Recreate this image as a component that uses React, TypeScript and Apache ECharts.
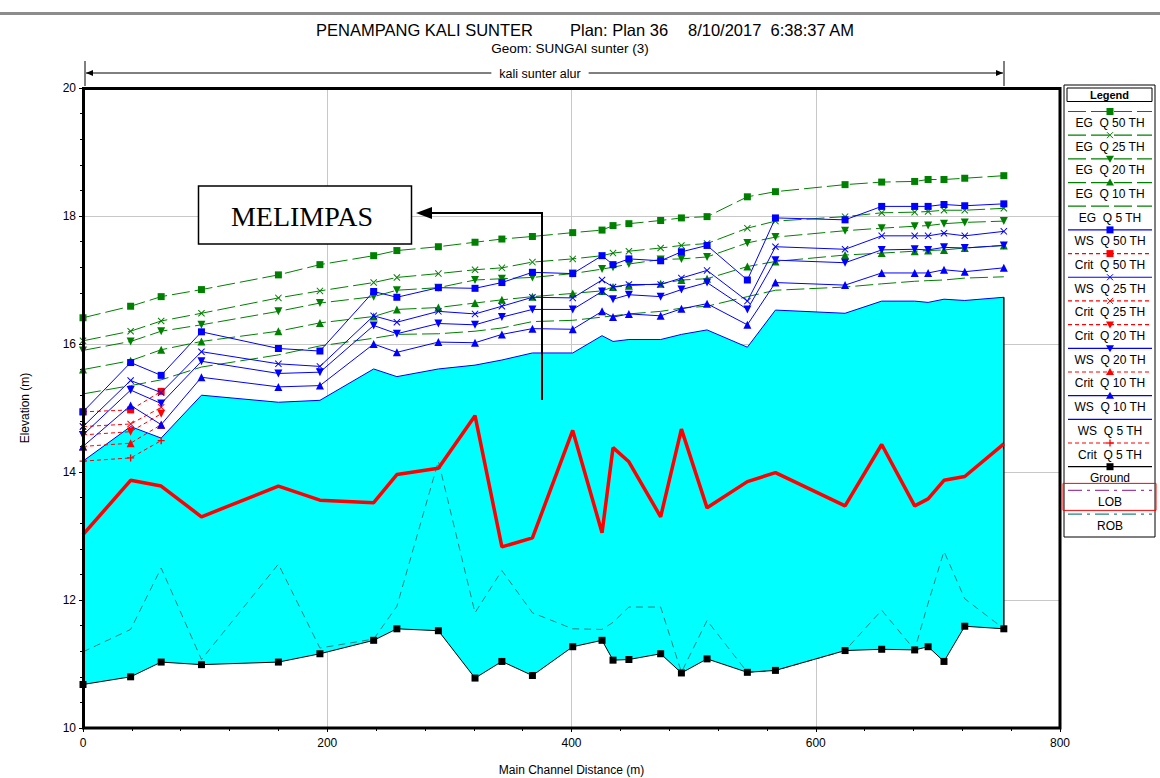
import React, { useEffect, useRef } from 'react';
import * as echarts from 'echarts';

// ---------------- data ----------------
const stations = [0, 39, 64, 97, 160, 194, 238, 257, 291, 321, 343, 368, 401, 425, 434, 447, 473, 490, 511, 544, 567, 624, 654, 681, 692, 705, 722, 754];

const ground = [10.68, 10.80, 11.03, 10.99, 11.03, 11.16, 11.37, 11.55, 11.52, 10.78, 11.04, 10.82, 11.27, 11.37, 11.06, 11.07, 11.16, 10.86, 11.08, 10.87, 10.90, 11.21, 11.23, 11.22, 11.27, 11.04, 11.59, 11.55];
const rob = [11.19, 11.54, 12.50, 11.07, 12.56, 11.25, 11.39, 11.90, 14.17, 11.80, 12.46, 11.80, 11.55, 11.54, 11.65, 11.89, 11.89, 10.87, 11.68, 10.87, 10.90, 11.21, 11.84, 11.22, 11.95, 12.76, 12.02, 11.55];

const wsQ5 = [14.17, 14.71, 14.53, 15.20, 15.09, 15.12, 15.61, 15.49, 15.61, 15.67, 15.75, 15.86, 15.86, 16.13, 16.04, 16.07, 16.07, 16.15, 16.22, 15.95, 16.53, 16.48, 16.67, 16.67, 16.65, 16.70, 16.68, 16.73];
const wsQ10 = [14.40, 15.04, 14.74, 15.48, 15.33, 15.35, 16.00, 15.87, 16.03, 16.02, 16.15, 16.24, 16.23, 16.51, 16.42, 16.47, 16.44, 16.55, 16.63, 16.30, 16.96, 16.92, 17.11, 17.11, 17.11, 17.16, 17.13, 17.19];
const wsQ20 = [14.58, 15.28, 15.07, 15.73, 15.54, 15.56, 16.29, 16.16, 16.32, 16.30, 16.42, 16.54, 16.54, 16.82, 16.70, 16.77, 16.74, 16.85, 16.96, 16.54, 17.31, 17.27, 17.47, 17.48, 17.47, 17.51, 17.50, 17.54];
const wsQ25 = [14.71, 15.43, 15.24, 15.88, 15.69, 15.65, 16.44, 16.34, 16.51, 16.47, 16.59, 16.73, 16.72, 17.00, 16.89, 16.93, 16.93, 17.03, 17.15, 16.67, 17.52, 17.48, 17.69, 17.69, 17.69, 17.73, 17.69, 17.76];
const wsQ50 = [14.94, 15.71, 15.51, 16.19, 15.93, 15.89, 16.82, 16.73, 16.88, 16.87, 16.96, 17.12, 17.10, 17.38, 17.24, 17.33, 17.30, 17.44, 17.54, 17.00, 17.97, 17.94, 18.15, 18.15, 18.15, 18.18, 18.16, 18.19];

const egQ50 = [16.41, 16.59, 16.74, 16.85, 17.08, 17.24, 17.38, 17.46, 17.52, 17.59, 17.64, 17.68, 17.74, 17.78, 17.85, 17.88, 17.93, 17.97, 17.99, 18.30, 18.38, 18.49, 18.53, 18.54, 18.57, 18.57, 18.59, 18.63];
const egQ25 = [16.05, 16.20, 16.36, 16.48, 16.72, 16.83, 16.96, 17.04, 17.10, 17.16, 17.19, 17.28, 17.33, 17.38, 17.42, 17.45, 17.50, 17.54, 17.57, 17.81, 17.92, 17.99, 18.05, 18.06, 18.07, 18.09, 18.09, 18.12];
const egQ20 = [15.90, 16.04, 16.20, 16.30, 16.51, 16.64, 16.74, 16.84, 16.88, 17.00, 17.02, 17.04, 17.10, 17.17, 17.20, 17.25, 17.32, 17.33, 17.36, 17.58, 17.67, 17.77, 17.81, 17.84, 17.85, 17.88, 17.90, 17.92];
const egQ10 = [15.60, 15.74, 15.91, 16.04, 16.20, 16.33, 16.43, 16.54, 16.57, 16.64, 16.69, 16.74, 16.79, 16.83, 16.89, 16.91, 16.94, 17.00, 17.02, 17.21, 17.29, 17.39, 17.42, 17.45, 17.46, 17.47, 17.50, 17.54];
const egQ5 = [15.22, 15.35, 15.44, 15.64, 15.83, 15.97, 16.09, 16.15, 16.16, 16.20, 16.25, 16.35, 16.37, 16.42, 16.44, 16.47, 16.51, 16.56, 16.59, 16.74, 16.84, 16.89, 16.94, 16.98, 16.99, 17.00, 17.03, 17.05];

// critical depth only computed at the first three stations
const critQ50 = [14.94, 14.97, 15.26];
const critQ25 = [14.71, 14.75, 15.01];
const critQ20 = [14.58, 14.63, 14.91];
const critQ10 = [14.40, 14.45, 14.74];
const critQ5 = [14.17, 14.22, 14.49];

// hand-drawn red line (annotation)
const redLine = [13.02, 13.87, 13.78, 13.30, 13.78, 13.56, 13.52, 13.96, 14.06, 14.88, 12.83, 12.97, 14.65, 13.05, 14.38, 14.16, 13.30, 14.67, 13.44, 13.85, 13.99, 13.47, 14.43, 13.47, 13.58, 13.87, 13.93, 14.44];

const legendNames = ['EG  Q 50 TH', 'EG  Q 25 TH', 'EG  Q 20 TH', 'EG  Q 10 TH', 'EG  Q 5 TH', 'WS  Q 50 TH', 'Crit  Q 50 TH', 'WS  Q 25 TH', 'Crit  Q 25 TH', 'Crit  Q 20 TH', 'WS  Q 20 TH', 'Crit  Q 10 TH', 'WS  Q 10 TH', 'WS  Q 5 TH', 'Crit  Q 5 TH', 'Ground', 'LOB', 'ROB'];

const titleMain = 'PENAMPANG KALI SUNTER';
const titlePlan = 'Plan: Plan 36';
const titleDate = '8/10/2017  6:38:37 AM';
const subTitle = 'Geom: SUNGAI sunter (3)';
const reachName = 'kali sunter alur';
const noteText = 'MELIMPAS';

// ---------------- styles ----------------
const GREEN = '#008000';
const BLUE = '#0000ff';
const RED = '#ff0000';
const BLACK = '#000000';
const PURPLE = '#a040a0';
const TEAL = '#2a8080';
const FONT = '"Liberation Sans", Arial, sans-serif';

const SYM: Record<string, string> = {
  square: 'rect',
  up: 'triangle',
  down: 'triangle',
  x: 'path://M0,1L1,0L5,4L9,0L10,1L6,5L10,9L9,10L5,6L1,10L0,9L4,5Z',
  plus: 'path://M4,0H6V4H10V6H6V10H4V6H0V4H4Z',
};

const EG_DASH = [18, 5];
const CRIT_DASH = [4, 3];

type Sty = { color: string; dash: number[] | null; sym: string | null };
const legendStyles: Sty[] = [
  { color: GREEN, dash: EG_DASH, sym: 'square' },
  { color: GREEN, dash: EG_DASH, sym: 'x' },
  { color: GREEN, dash: EG_DASH, sym: 'down' },
  { color: GREEN, dash: EG_DASH, sym: 'up' },
  { color: GREEN, dash: EG_DASH, sym: null },
  { color: BLUE, dash: null, sym: 'square' },
  { color: RED, dash: CRIT_DASH, sym: 'square' },
  { color: BLUE, dash: null, sym: 'x' },
  { color: RED, dash: CRIT_DASH, sym: 'x' },
  { color: RED, dash: CRIT_DASH, sym: 'down' },
  { color: BLUE, dash: null, sym: 'down' },
  { color: RED, dash: CRIT_DASH, sym: 'up' },
  { color: BLUE, dash: null, sym: 'up' },
  { color: BLUE, dash: null, sym: null },
  { color: RED, dash: CRIT_DASH, sym: 'plus' },
  { color: BLACK, dash: null, sym: 'square' },
  { color: PURPLE, dash: [14, 5, 3, 5], sym: null },
  { color: TEAL, dash: [14, 5, 3, 5], sym: null },
];

function lineSeries(name: string, xs: number[], ys: number[], color: string, dash: number[] | null, sym: string | null, width = 1, z = 3) {
  return {
    type: 'line',
    name,
    data: xs.map((x, i) => [x, ys[i]]),
    lineStyle: { color, width, type: dash ? dash : 'solid' },
    itemStyle: { color, borderWidth: 0 },
    symbol: sym ? SYM[sym] : 'none',
    symbolSize: sym === 'up' || sym === 'down' ? 8 : 7,
    symbolRotate: sym === 'down' ? 180 : 0,
    showSymbol: !!sym,
    showAllSymbol: true,
    silent: true,
    z,
  };
}

function legendGraphics() {
  const els: any[] = [];
  const bx = 1064, by = 85, bw = 91, bh = 452;
  els.push({ type: 'rect', shape: { x: bx, y: by, width: bw, height: bh }, style: { fill: '#fff', stroke: '#000', lineWidth: 1 }, z: 50 });
  els.push({ type: 'rect', shape: { x: 1067, y: 88, width: 85, height: 13.5 }, style: { fill: '#fff', stroke: '#000', lineWidth: 1 }, z: 51 });
  els.push({ type: 'text', x: 1109.5, y: 94.5, style: { text: 'Legend', font: `bold 11px ${FONT}`, fill: '#000', align: 'center', verticalAlign: 'middle' }, z: 52 });
  legendNames.forEach((name, i) => {
    const s = legendStyles[i];
    const ly = 111.5 + i * 23.68;
    const cx = 1110;
    if (name === 'LOB') {
      els.push({ type: 'rect', shape: { x: 1063, y: ly - 7, width: 93, height: 27 }, style: { fill: 'none', stroke: RED, lineWidth: 1 }, z: 53 });
    }
    els.push({ type: 'line', shape: { x1: 1068, y1: ly, x2: 1152, y2: ly }, style: { stroke: s.color, lineWidth: 1.2, lineDash: s.dash || null }, z: 52 });
    if (s.sym === 'square') {
      els.push({ type: 'rect', shape: { x: cx - 3.5, y: ly - 3.5, width: 7, height: 7 }, style: { fill: s.color }, z: 53 });
    } else if (s.sym === 'up') {
      els.push({ type: 'polygon', shape: { points: [[cx, ly - 4], [cx - 4, ly + 3], [cx + 4, ly + 3]] }, style: { fill: s.color }, z: 53 });
    } else if (s.sym === 'down') {
      els.push({ type: 'polygon', shape: { points: [[cx, ly + 4], [cx - 4, ly - 3], [cx + 4, ly - 3]] }, style: { fill: s.color }, z: 53 });
    } else if (s.sym === 'x') {
      els.push({ type: 'line', shape: { x1: cx - 3, y1: ly - 3, x2: cx + 3, y2: ly + 3 }, style: { stroke: s.color, lineWidth: 1 }, z: 53 });
      els.push({ type: 'line', shape: { x1: cx - 3, y1: ly + 3, x2: cx + 3, y2: ly - 3 }, style: { stroke: s.color, lineWidth: 1 }, z: 53 });
    } else if (s.sym === 'plus') {
      els.push({ type: 'line', shape: { x1: cx - 3.5, y1: ly, x2: cx + 3.5, y2: ly }, style: { stroke: s.color, lineWidth: 1.3 }, z: 53 });
      els.push({ type: 'line', shape: { x1: cx, y1: ly - 3.5, x2: cx, y2: ly + 3.5 }, style: { stroke: s.color, lineWidth: 1.3 }, z: 53 });
    }
    els.push({ type: 'text', x: cx, y: ly + 11.5, style: { text: name, font: `12px ${FONT}`, fill: '#000', align: 'center', verticalAlign: 'middle' }, z: 53 });
  });
  return els;
}

function buildOption() {
  const critX = stations.slice(0, critQ50.length);
  const fillData = stations.map((x, i) => [x, wsQ5[i], ground[i]]);
  const series: any[] = [
    {
      type: 'custom',
      name: 'fill',
      silent: true,
      z: 1,
      data: fillData,
      encode: { x: 0, y: [1, 2] },
      renderItem: (params: any, api: any) => {
        if (params.dataIndex !== 0) return null;
        const top = stations.map((x, i) => api.coord([x, wsQ5[i]]));
        const bot = stations.map((x, i) => api.coord([x, ground[i]])).reverse();
        const last = stations.length - 1;
        const a = api.coord([stations[last], wsQ5[last]]);
        const b = api.coord([stations[last], ground[last]]);
        return {
          type: 'group',
          children: [
            { type: 'polygon', shape: { points: top.concat(bot) }, style: { fill: '#00ffff', stroke: 'none' } },
            { type: 'line', shape: { x1: a[0], y1: a[1], x2: b[0], y2: b[1] }, style: { stroke: '#000', lineWidth: 1.5 } },
          ],
        };
      },
    },
    lineSeries('ROB', stations, rob, TEAL, [7, 5], null, 1, 2),
    lineSeries('Ground', stations, ground, BLACK, null, 'square', 1, 4),
    lineSeries('annotation', stations, redLine, RED, null, null, 3.5, 3),
    lineSeries('WS  Q 5 TH', stations, wsQ5, BLUE, null, null, 1, 3),
    lineSeries('Crit  Q 5 TH', critX, critQ5, RED, CRIT_DASH, 'plus', 1, 4),
    lineSeries('Crit  Q 10 TH', critX, critQ10, RED, CRIT_DASH, 'up', 1, 4),
    lineSeries('Crit  Q 20 TH', critX, critQ20, RED, CRIT_DASH, 'down', 1, 4),
    lineSeries('Crit  Q 25 TH', critX, critQ25, RED, CRIT_DASH, 'x', 1, 4),
    lineSeries('Crit  Q 50 TH', critX, critQ50, RED, CRIT_DASH, 'square', 1, 4),
    lineSeries('WS  Q 10 TH', stations, wsQ10, BLUE, null, 'up', 1, 5),
    lineSeries('WS  Q 20 TH', stations, wsQ20, BLUE, null, 'down', 1, 5),
    lineSeries('WS  Q 25 TH', stations, wsQ25, BLUE, null, 'x', 1, 5),
    lineSeries('WS  Q 50 TH', stations, wsQ50, BLUE, null, 'square', 1, 5),
    lineSeries('EG  Q 5 TH', stations, egQ5, GREEN, EG_DASH, null, 1, 4),
    lineSeries('EG  Q 10 TH', stations, egQ10, GREEN, EG_DASH, 'up', 1, 4),
    lineSeries('EG  Q 20 TH', stations, egQ20, GREEN, EG_DASH, 'down', 1, 4),
    lineSeries('EG  Q 25 TH', stations, egQ25, GREEN, EG_DASH, 'x', 1, 4),
    lineSeries('EG  Q 50 TH', stations, egQ50, GREEN, EG_DASH, 'square', 1, 4),
  ];

  const graphic: any[] = [
    // top grey rule
    { type: 'rect', shape: { x: 0, y: 12, width: 1160, height: 3 }, style: { fill: '#8c8c8c' }, z: 10 },
    // titles
    { type: 'text', x: 316, y: 30, style: { text: titleMain, font: `16.5px ${FONT}`, fill: '#000', align: 'left', verticalAlign: 'middle' }, z: 10 },
    { type: 'text', x: 570, y: 30, style: { text: titlePlan, font: `16.5px ${FONT}`, fill: '#000', align: 'left', verticalAlign: 'middle' }, z: 10 },
    { type: 'text', x: 688, y: 30, style: { text: titleDate, font: `16.5px ${FONT}`, fill: '#000', align: 'left', verticalAlign: 'middle' }, z: 10 },
    { type: 'text', x: 570, y: 48, style: { text: subTitle, font: `13.5px ${FONT}`, fill: '#000', align: 'center', verticalAlign: 'middle' }, z: 10 },
    // reach arrow
    { type: 'line', shape: { x1: 85, y1: 61, x2: 85, y2: 86 }, style: { stroke: '#000', lineWidth: 1 }, z: 10 },
    { type: 'line', shape: { x1: 1004, y1: 61, x2: 1004, y2: 86 }, style: { stroke: '#000', lineWidth: 1 }, z: 10 },
    { type: 'line', shape: { x1: 86, y1: 73, x2: 1003, y2: 73 }, style: { stroke: '#000', lineWidth: 1 }, z: 10 },
    { type: 'polygon', shape: { points: [[86, 73], [93, 70], [93, 76]] }, style: { fill: '#000' }, z: 10 },
    { type: 'polygon', shape: { points: [[1003, 73], [996, 70], [996, 76]] }, style: { fill: '#000' }, z: 10 },
    { type: 'text', x: 540, y: 74, style: { text: reachName, font: `12.5px ${FONT}`, fill: '#000', align: 'center', verticalAlign: 'middle', backgroundColor: '#fff', padding: [1, 8] }, z: 11 },
    // plot frame
    { type: 'rect', shape: { x: 83.5, y: 88.5, width: 976.5, height: 639.5 }, style: { fill: 'none', stroke: '#000', lineWidth: 3 }, z: 20 },
    // annotation box
    { type: 'rect', shape: { x: 198.5, y: 186, width: 213, height: 58 }, style: { fill: '#fff', stroke: '#000', lineWidth: 1.5 }, z: 30 },
    { type: 'text', x: 302, y: 216, style: { text: noteText, font: `28px "Liberation Serif", "Times New Roman", serif`, fill: '#000', align: 'center', verticalAlign: 'middle' }, z: 31 },
    { type: 'polyline', shape: { points: [[542, 400], [542, 213], [430, 213]] }, style: { stroke: '#000', lineWidth: 2, fill: 'none' }, z: 30 },
    { type: 'polygon', shape: { points: [[416, 213], [432, 207], [432, 219]] }, style: { fill: '#000' }, z: 30 },
    ...legendGraphics(),
  ];

  return {
    animation: false,
    backgroundColor: '#fff',
    textStyle: { fontFamily: FONT },
    grid: { left: 83, right: 100, top: 88, bottom: 50, show: false, containLabel: false, outerBoundsMode: 'none' },
    xAxis: {
      type: 'value',
      min: 0,
      max: 800,
      interval: 200,
      name: 'Main Channel Distance (m)',
      nameLocation: 'middle',
      nameGap: 36,
      nameTextStyle: { color: '#000', fontSize: 12, fontFamily: FONT },
      axisLine: { show: true, lineStyle: { color: '#000', width: 2 } },
      axisTick: { show: true, length: 4, lineStyle: { color: '#000' } },
      minorTick: { show: true, splitNumber: 5, length: 3, lineStyle: { color: '#000' } },
      axisLabel: { color: '#000', fontSize: 12, margin: 9, fontFamily: FONT },
      splitLine: { show: true, lineStyle: { color: '#c8c8c8', width: 1 } },
    },
    yAxis: {
      type: 'value',
      min: 10,
      max: 20,
      interval: 2,
      name: 'Elevation (m)',
      nameLocation: 'middle',
      nameGap: 52,
      nameTextStyle: { color: '#000', fontSize: 12, fontFamily: FONT },
      axisLine: { show: true, lineStyle: { color: '#000', width: 2 } },
      axisTick: { show: true, length: 4, lineStyle: { color: '#000' } },
      minorTick: { show: true, splitNumber: 5, length: 3, lineStyle: { color: '#000' } },
      axisLabel: { color: '#000', fontSize: 12, margin: 7, fontFamily: FONT },
      splitLine: { show: true, lineStyle: { color: '#c8c8c8', width: 1 } },
    },
    series,
    graphic,
  };
}

export default function App() {
  const ref = useRef<HTMLDivElement>(null);
  useEffect(() => {
    if (!ref.current) return;
    const chart = echarts.init(ref.current, null, { renderer: 'svg' });
    chart.setOption(buildOption() as any);
    return () => chart.dispose();
  }, []);
  return <div ref={ref} style={{ position: 'absolute', left: 0, top: 0, width: 1160, height: 778, background: '#fff' }} />;
}
